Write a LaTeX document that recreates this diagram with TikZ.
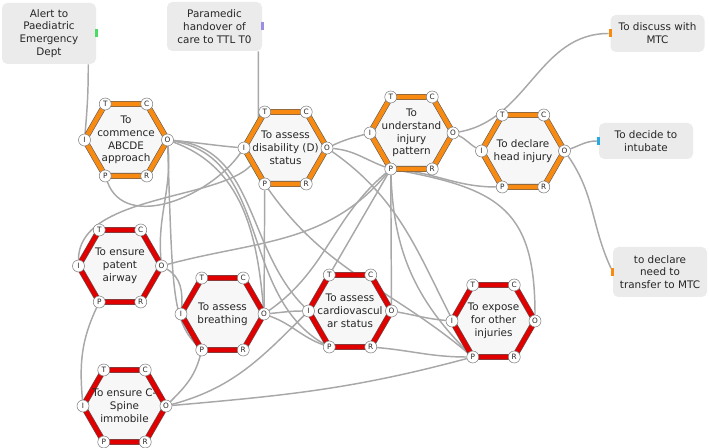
\documentclass[tikz,border=0pt]{standalone}
\usepackage{fontspec}
\setmainfont{DejaVu Sans}
\usetikzlibrary{calc,backgrounds,shapes.geometric}
\definecolor{ink}{HTML}{262626}
\definecolor{fOrange}{HTML}{F88A12}
\definecolor{fRed}{HTML}{E00000}
\definecolor{fEdge}{HTML}{5A5A5A}
\definecolor{fFill}{HTML}{F7F7F7}
\definecolor{boxFill}{HTML}{EBEBEB}
\definecolor{linkGray}{HTML}{A8A8A8}
\definecolor{tGreen}{HTML}{4CD964}
\definecolor{tPurple}{HTML}{9C8FE3}
\definecolor{tBlue}{HTML}{29A9E1}
\tikzset{
  asp/.style={circle, draw=fEdge!80, fill=white, line width=0.4pt, minimum size=9pt, inner sep=0pt, font=\fontsize{5.5}{6}\selectfont, text=ink},
  lbl/.style={align=center, font=\fontsize{7.8}{9.6}\selectfont, text=ink, inner sep=0pt},
}

\begin{document}
\begin{tikzpicture}[x=0.75pt, y=0.75pt,
  hexa/.style={regular polygon, regular polygon sides=6, minimum size=62.25pt, inner sep=0pt, draw=fEdge, line width=0.45pt, double distance=3.5pt, fill=fFill},
  ext/.style={rectangle, rounded corners=4pt, fill=boxFill, minimum width=70.5pt, align=center, font=\fontsize{7.8}{9.6}\selectfont, text=ink, inner sep=1pt},
  tab/.style={rectangle, inner sep=0pt, minimum width=2.2pt, minimum height=6pt},
  link/.style={draw=linkGray, line width=1.1pt}]
\useasboundingbox (0,0) rectangle (709,448);
\node[ext, minimum height=45.75pt] (alert) at (49,414.5) {Alert to\\Paediatric\\Emergency\\Dept};
\node[ext, minimum height=36.75pt, minimum width=71.25pt] (para) at (214.5,421.5) {Paramedic\\handover of\\care to TTL T0};
\node[ext, minimum height=27.75pt] (discuss) at (657.5,414.5) {To discuss with\\MTC};
\node[ext, minimum height=27pt] (intubate) at (646,307) {To decide to\\intubate};
\node[ext, minimum height=37.5pt] (transfer) at (660,176) {to declare\\need to\\transfer to MTC};
\node[tab, fill=tGreen] (alert-tab) at (alert.east) {};
\node[tab, fill=tPurple] (para-tab) at (para.east) {};
\node[tab, fill=fOrange] (discuss-tab) at (discuss.west) {};
\node[tab, fill=tBlue] (intubate-tab) at (intubate.west) {};
\node[tab, fill=fOrange] (transfer-tab) at (transfer.west) {};
\node[regular polygon, regular polygon sides=6, minimum size=67pt, draw=green!30, line width=0.4pt] (disab-sel) at (285.5,300) {};
\node[hexa, double=fOrange] (abc) at (126,308) {};
\node[hexa, double=fOrange] (disab) at (285.5,300) {};
\node[hexa, double=fOrange] (injury) at (411.5,315) {};
\node[hexa, double=fOrange] (head) at (523,297) {};
\node[hexa, double=fRed] (airway) at (120,182) {};
\node[hexa, double=fRed] (breath) at (222.5,134) {};
\node[hexa, double=fRed] (cardio) at (350,137) {};
\node[hexa, double=fRed] (expose) at (493.5,127) {};
\node[hexa, double=fRed] (cspine) at (124.5,42) {};
\node[lbl] (abc-t) at (abc) {To\\commence\\ABCDE\\approach};
\node[lbl] (disab-t) at (disab) {To assess\\disability (D)\\status};
\node[lbl] (injury-t) at (injury) {To\\understand\\injury\\pattern};
\node[lbl] (head-t) at (head) {To declare\\head injury};
\node[lbl] (airway-t) at (airway) {To ensure\\patent\\airway};
\node[lbl] (breath-t) at (breath) {To assess\\breathing};
\node[lbl] (cardio-t) at (cardio) {To assess\\cardiovascul\\ar status};
\node[lbl] (expose-t) at (expose) {To expose\\for other\\injuries};
\node[lbl] (cspine-t) at (cspine) {To ensure C-\\Spine\\immobile};
\foreach \f in {abc,disab,injury,head,airway,breath,cardio,expose,cspine}
  \foreach \a/\dx/\dy in {T/-20.75/36,C/20.75/36,I/-41.5/0,O/41.5/0,P/-20.75/-36,R/20.75/-36}
    \node[asp] (\f-\a) at ($(\f)+(\dx,\dy)$) {\a};
\begin{scope}[on background layer]
\draw[link] ([xshift=-6pt]alert.south east) to[out=-90,in=85] (abc-I);
\draw[link] ([xshift=-3pt]para.south east) -- ++(0,-97) .. controls +(0,-55) and +(0,80) .. (airway-I);
\draw[link] (abc-O) to[out=-5,in=175] (disab-I);
\draw[link] (abc-O) to[out=-85,in=95] (airway-O);
\draw[link] (abc-O) .. controls +(5,-150) and +(-30,30) .. (breath-P);
\draw[link] (abc-O) to[out=-20,in=95] (breath-O);
\draw[link] (abc-O) to[out=-5,in=135] (cardio-I);
\draw[link] (abc-O) to[out=-10,in=150] (cardio-P);
\draw[link] (disab-I) to[out=-125,in=-70] (abc-P);
\draw[link] (disab-O) to[out=25,in=195] (injury-I);
\draw[link] (disab-O) to[out=-5,in=160] (injury-P);
\draw[link] (disab-O) to[out=-35,in=120] (expose-P);
\draw[link] (disab-P) -- (breath-O);
\draw[link] (disab-P) to[out=-55,in=140] (expose-P);
\draw[link] (injury-O) to[out=-25,in=150] (head-I);
\draw[link] (injury-O) to[out=10,in=180] (discuss-tab);
\draw[link] (injury-P) -- (cardio-T);
\draw[link] (injury-P) -- (cardio-O);
\draw[link] (injury-P) to[out=-140,in=35] (breath-O);
\draw[link] (injury-P) .. controls +(110,-20) and +(0,110) .. (expose-O);
\draw[link] (injury-P) to[out=-5,in=180] (head-P);
\draw[link] (injury-P) to[out=-88,in=135] (expose-P);
\draw[link] (airway-O) to[out=15,in=-130] (injury-P);
\draw[link] (airway-O) to[out=-30,in=85] (breath-I);
\draw[link] (airway-P) to[out=-115,in=95] (cspine-I);
\draw[link] (cspine-O) to[out=45,in=-105] (breath-P);
\draw[link] (cspine-O) to[out=15,in=-135] (cardio-I);
\draw[link] (cspine-O) to[out=5,in=-165] (expose-P);
\draw[link] (breath-O) to[out=5,in=180] (cardio-I);
\draw[link] (breath-O) to[out=-20,in=160] (cardio-P);
\draw[link] (cardio-R) to[out=-5,in=180] (expose-P);
\draw[link] (cardio-O) to[out=-10,in=175] (expose-I);
\draw[link] (head-O) to[out=20,in=180] (intubate-tab);
\draw[link] (head-O) to[out=-55,in=115] (transfer-tab);
\end{scope}
\end{tikzpicture}
\end{document}
